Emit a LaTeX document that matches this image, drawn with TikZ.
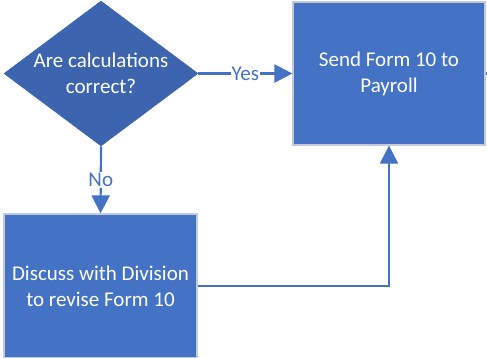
\documentclass[tikz,border=0pt]{standalone}
\usepackage{fontspec}
\setmainfont{Carlito}
\usetikzlibrary{shapes.geometric,arrows.meta}
\definecolor{boxblue}{HTML}{4472C4}
\definecolor{diablue}{HTML}{3D65AF}
\definecolor{boxedge}{HTML}{C3CAD8}
\begin{document}
\begin{tikzpicture}[x=1pt,y=-1pt,
  procbox/.style={rectangle, fill=boxblue, draw=boxedge, line width=1.2pt,
    inner sep=0pt, text=white, align=center, font=\fontsize{21}{26}\selectfont},
  decision/.style={diamond, fill=diablue, draw=diablue, line width=0.5pt, inner sep=0pt},
  decisiontext/.style={text=white, align=center, font=\fontsize{21}{26}\selectfont},
  conn/.style={draw=boxblue, line width=2.2pt, -{Triangle[length=18pt,width=18pt]}},
  plainconn/.style={draw=boxblue, line width=2.2pt},
  clabel/.style={fill=white, text=boxblue, inner sep=1pt, font=\fontsize{21}{24}\selectfont}]
\useasboundingbox (0,0) rectangle (487,357);
\node[decision, minimum width=194pt, minimum height=145pt] (dec) at (101,73.5) {};
\node[decisiontext] (dectext) at (dec.center) {Are calculations\\correct?};
\node[procbox, minimum width=192pt, minimum height=143pt] (send) at (389,73.5) {Send Form 10 to\\Payroll};
\node[procbox, minimum width=193pt, minimum height=144pt] (discuss) at (100.5,286) {Discuss with Division\\to revise Form 10};
\coordinate (stubend) at (487,73.5);
\draw[conn] (dec.east) -- node[clabel] (yes) {Yes} (send.west);
\draw[conn] (dec.south) -- node[clabel] (no) {No} (discuss.north);
\draw[conn] (discuss.east) -| (send.south);
\draw[plainconn] (send.east) -- (stubend);
\end{tikzpicture}
\end{document}
